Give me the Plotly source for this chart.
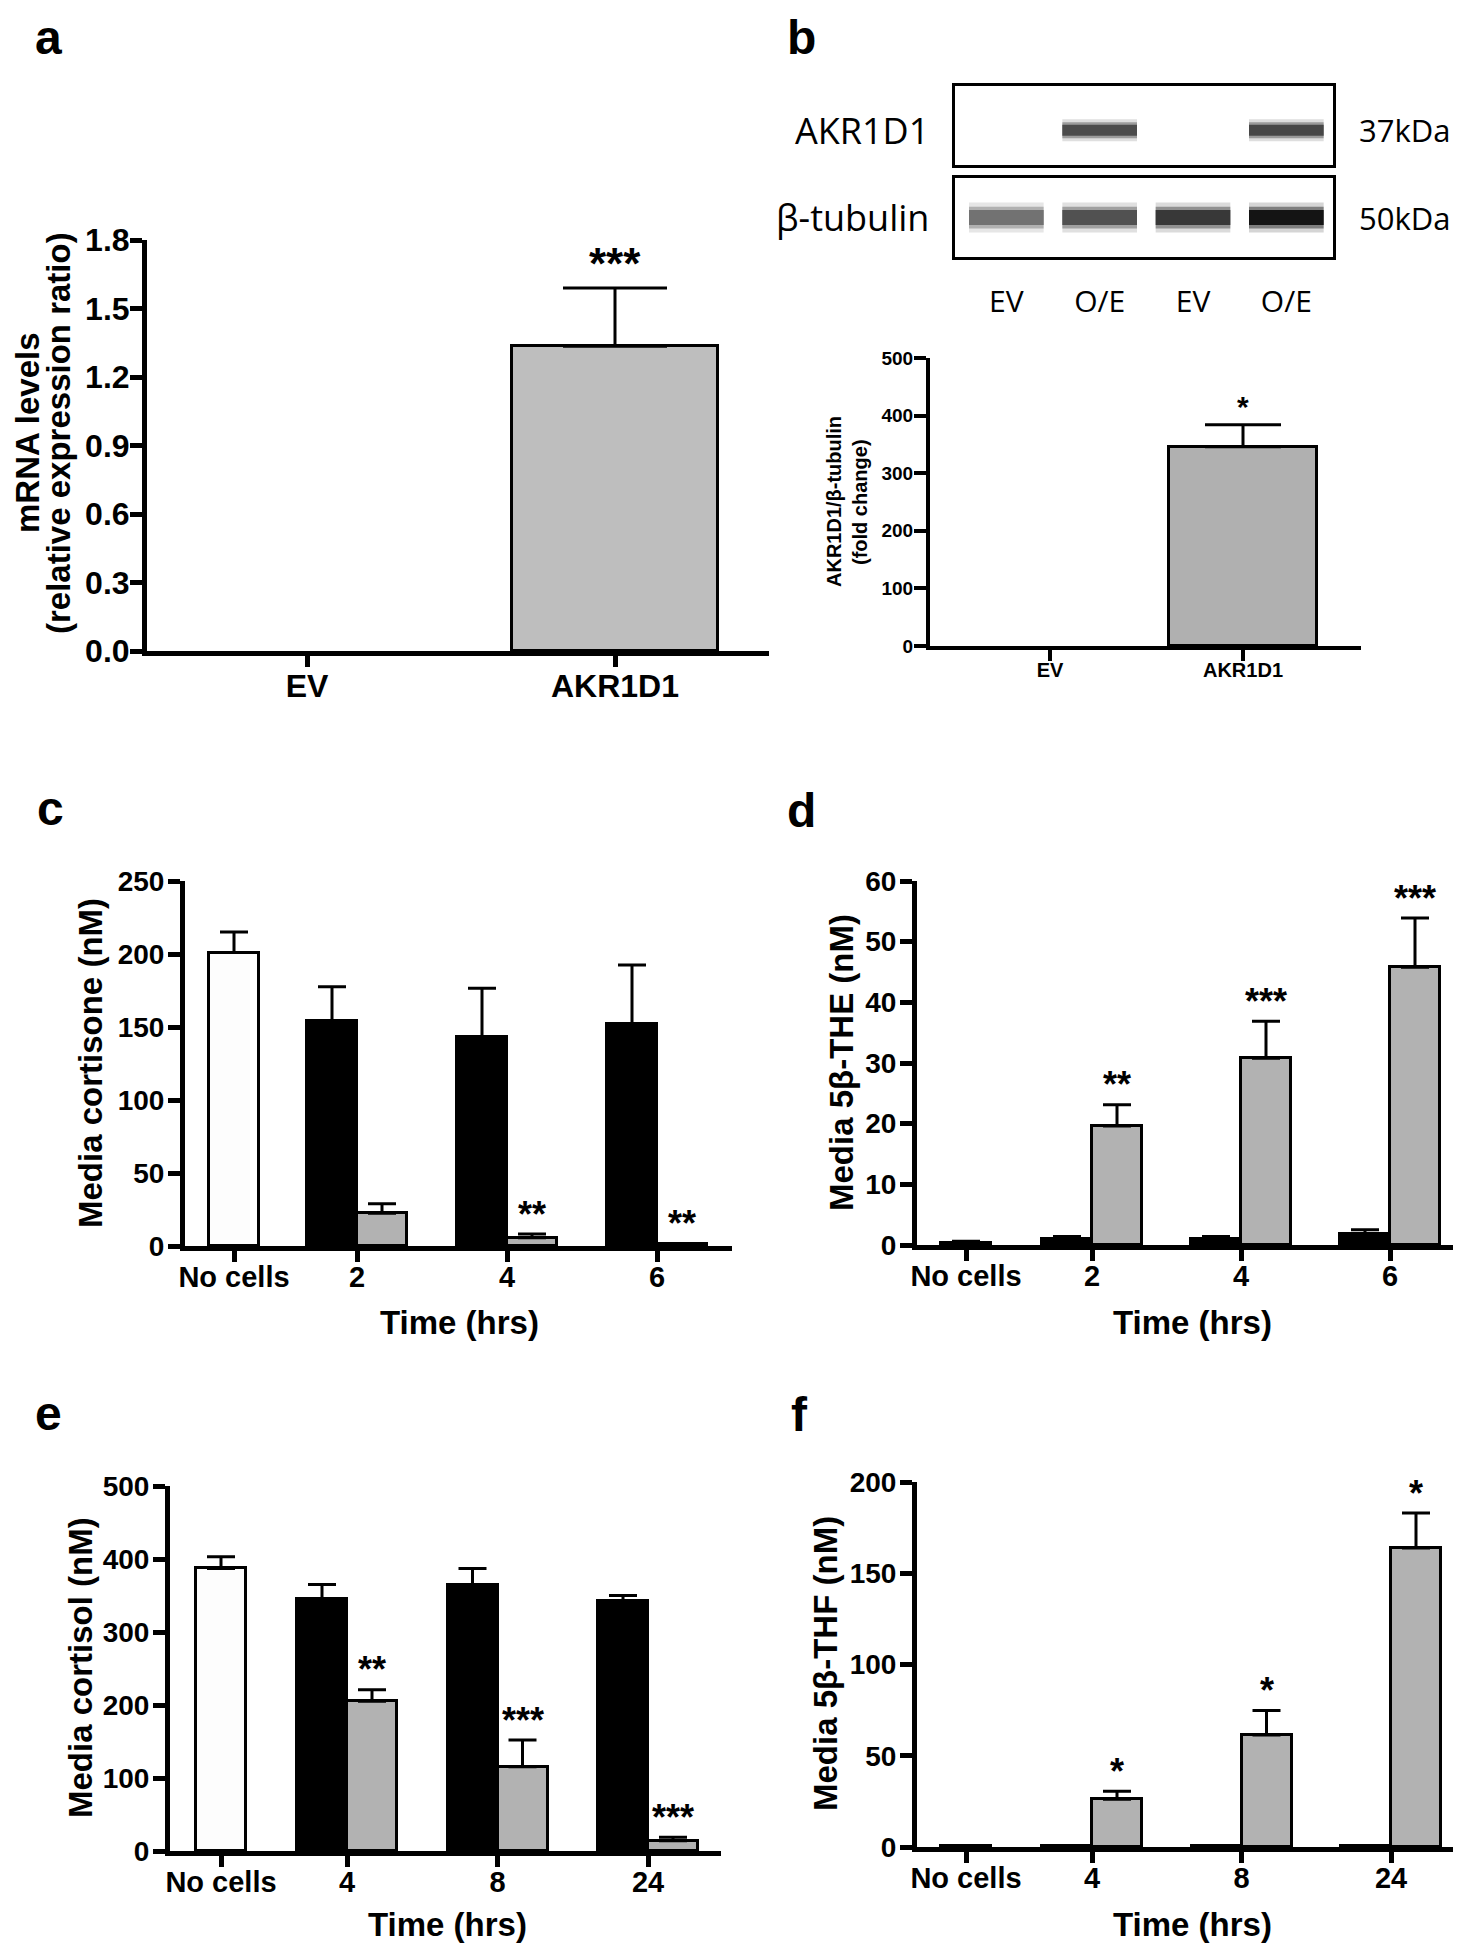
import plotly.graph_objects as go

W, H = 1461, 1950
FONT = "Liberation Sans, Arial, sans-serif"
BLOT_FONT = "Open Sans, Lato, sans-serif"

# ---------------- data ----------------
a_groups = ["EV", "AKR1D1"]
a_mean = [0.0, 1.335]
a_sem = [0.0, 0.255]
a_stars = ["", "***"]
a_yticks = [0.0, 0.3, 0.6, 0.9, 1.2, 1.5, 1.8]

b_groups = ["EV", "AKR1D1"]
b_mean = [0.0, 346]
b_sem = [0.0, 38]
b_stars = ["", "*"]
b_yticks = [0, 100, 200, 300, 400, 500]

blot_lanes = ["EV", "O/E", "EV", "O/E"]
blot_rows = ["AKR1D1", "β-tubulin"]
blot_kda = ["37kDa", "50kDa"]
akr1d1_band = [0.0, 0.70, 0.0, 0.72]
tubulin_band = [0.55, 0.68, 0.78, 0.92]

c_times = ["No cells", "2", "4", "6"]
c_nocells, c_nocells_sem = 201, 14
c_ev = [154, 143, 152]
c_ev_sem = [23.5, 33.5, 40.5]
c_akr = [22.5, 5.7, 1.1]
c_akr_sem = [6.5, 2.5, 0.5]
c_stars = ["", "**", "**"]
c_yticks = [0, 50, 100, 150, 200, 250]

d_times = ["No cells", "2", "4", "6"]
d_nocells, d_nocells_sem = 0.4, 0.2
d_ev = [1.0, 1.0, 1.8]
d_ev_sem = [0.4, 0.4, 0.7]
d_akr = [19.6, 30.8, 45.8]
d_akr_sem = [3.5, 6.1, 8.1]
d_stars = ["**", "***", "***"]
d_yticks = [0, 10, 20, 30, 40, 50, 60]

e_times = ["No cells", "4", "8", "24"]
e_nocells, e_nocells_sem = 387, 16
e_ev = [345, 364, 342]
e_ev_sem = [20, 23, 8]
e_akr = [205, 115.5, 14]
e_akr_sem = [16, 36.5, 5]
e_stars = ["**", "***", "***"]
e_yticks = [0, 100, 200, 300, 400, 500]

f_times = ["No cells", "4", "8", "24"]
f_nocells, f_nocells_sem = 0.5, 0.0
f_ev = [0.5, 0.5, 0.5]
f_ev_sem = [0.0, 0.0, 0.0]
f_akr = [26.2, 61.4, 163.8]
f_akr_sem = [4.3, 13.4, 19.2]
f_stars = ["*", "*", "*"]
f_yticks = [0, 50, 100, 150, 200]

# ---------------- helpers ----------------
fig = go.Figure()
layout = {}
annotations = []

WHITE = "#fdfdfd"
BLACK = "#000000"
GRAY = "#b2b2b2"


def xdom(x0, x1):
    return [x0 / W, x1 / W]


def ydom(top, bottom):
    return [1 - bottom / H, 1 - top / H]


def axname(n):
    return ("x", "y") if n == 1 else (f"x{n}", f"y{n}")


def lkey(n, letter):
    return f"{letter}axis" if n == 1 else f"{letter}axis{n}"


def bold(size):
    return dict(family=FONT, size=size, color="black", weight="bold")


def paper_text(text, x, y, size, angle=0, weight="bold", family=FONT):
    annotations.append(dict(text=text, x=x / W, y=1 - y / H, xref="paper", yref="paper",
                            showarrow=False, xanchor="center", yanchor="middle", textangle=angle,
                            font=dict(family=family, size=size, color="black", weight=weight)))


def xaxis_cfg(groups, px, cat0, lw, size, standoff=-8, **extra):
    unit = px["unit"]
    cfg = dict(type="category", categoryorder="array", categoryarray=groups,
               range=[(px["x0"] - cat0) / unit, (px["x1"] - cat0) / unit],
               ticks="outside", ticklen=11, tickwidth=lw, tickcolor="black",
               showgrid=False, zeroline=False, tickfont=bold(size), ticklabelstandoff=standoff,
               fixedrange=True)
    cfg.update(extra)
    return cfg


def yaxis_cfg(yticks, px, lw, size, anchor, standoff=0, tickfmt=None):
    cfg = dict(domain=ydom(px["ytop"], px["ybot"]), anchor=anchor,
               range=[yticks[0], yticks[-1]], tickvals=yticks,
               showline=True, linecolor="black", linewidth=lw, ticks="outside", ticklen=12,
               tickwidth=lw, tickcolor="black", showgrid=False, zeroline=False,
               tickfont=bold(size), ticklabelstandoff=standoff, fixedrange=True)
    if tickfmt:
        cfg["tickformat"] = tickfmt
    return cfg


def simple_panel(n, groups, mean, sem, stars, yticks, px, lw, color, cap, star_size,
                 ytick_size, xtick_size, ystandoff, tickfmt=None):
    xa, ya = axname(n)
    layout[lkey(n, "x")] = xaxis_cfg(groups, px, px["cat0"], lw, xtick_size,
                                     domain=xdom(px["x0"], px["x1"]), anchor=ya,
                                     showline=True, linecolor="black", linewidth=lw)
    layout[lkey(n, "y")] = yaxis_cfg(yticks, px, lw, ytick_size, xa, ystandoff, tickfmt)
    w = px["barw"] / px["unit"]
    keep = [i for i, v in enumerate(mean) if v > 0]
    fig.add_trace(go.Bar(
        x=[groups[i] for i in keep], y=[mean[i] for i in keep], width=w,
        marker=dict(color=color, line=dict(color="black", width=3)),
        error_y=dict(type="data", array=[sem[i] for i in keep], arrayminus=[0] * len(keep),
                     symmetric=False, color="black", thickness=3, width=cap),
        xaxis=xa, yaxis=ya, showlegend=False))
    for i in keep:
        if stars[i]:
            annotations.append(dict(text=stars[i], x=i, y=mean[i] + sem[i], xref=xa, yref=ya,
                                    showarrow=False, yanchor="middle", yshift=px["starshift"],
                                    font=bold(star_size)))


def time_panel(n, times, nocells, nocells_sem, ev, ev_sem, akr, akr_sem, stars, yticks, px):
    xa, ya = axname(n)
    xo = f"x{n + 10}"
    # time points on the main axis, the "No cells" control on an overlaid axis
    layout[lkey(n, "x")] = xaxis_cfg(times[1:], px, px["cat0"], 5, 29, standoff=-10,
                                     domain=xdom(px["x0"], px["x1"]), anchor=ya,
                                     showline=True, linecolor="black", linewidth=5)
    layout[lkey(n + 10, "x")] = xaxis_cfg(times[:1], px, px["nc0"], 5, 29, standoff=-10,
                                          overlaying=xa, anchor=ya, showline=True,
                                          linecolor="rgba(0,0,0,0)", linewidth=5)
    layout[lkey(n, "y")] = yaxis_cfg(yticks, px, 5, 28, xa, standoff=-2)
    w = px["barw"] / px["unit"]
    eb = dict(type="data", symmetric=False, color="black", thickness=3, width=14)
    fig.add_trace(go.Bar(x=times[:1], y=[nocells], width=w,
                         marker=dict(color=WHITE, line=dict(color="black", width=3)),
                         error_y=dict(eb, array=[nocells_sem], arrayminus=[0]),
                         xaxis=xo, yaxis=ya, showlegend=False))
    fig.add_trace(go.Bar(x=times[1:], y=ev, width=w, offset=-w,
                         marker=dict(color=BLACK, line=dict(color="black", width=3)),
                         error_y=dict(eb, array=ev_sem, arrayminus=[0] * len(ev)),
                         xaxis=xa, yaxis=ya, showlegend=False))
    fig.add_trace(go.Bar(x=times[1:], y=akr, width=w, offset=0,
                         marker=dict(color=GRAY, line=dict(color="black", width=3)),
                         error_y=dict(eb, array=akr_sem, arrayminus=[0] * len(akr)),
                         xaxis=xa, yaxis=ya, showlegend=False))
    for i, s in enumerate(stars):
        if s:
            annotations.append(dict(text=s, x=i + w / 2, y=akr[i] + akr_sem[i], xref=xa, yref=ya,
                                    showarrow=False, yanchor="middle", yshift=20, font=bold(36)))


# ---------------- panel a ----------------
simple_panel(1, a_groups, a_mean, a_sem, a_stars, a_yticks,
             dict(x0=139, x1=761, ytop=232, ybot=643, cat0=299, unit=308, barw=206, starshift=24),
             5, "#bebebe", 52, 44, ytick_size=32, xtick_size=32, ystandoff=-6, tickfmt=".1f")
paper_text("mRNA levels", 19, 425, 33, angle=-90)
paper_text("(relative expression ratio)", 50, 425, 33, angle=-90)

# ---------------- panel b chart ----------------
simple_panel(2, b_groups, b_mean, b_sem, b_stars, b_yticks,
             dict(x0=922, x1=1353, ytop=350, ybot=638, cat0=1042, unit=193, barw=148, starshift=18),
             4, "#b0b0b0", 38, 30, ytick_size=19, xtick_size=20, ystandoff=-3)
paper_text("AKR1D1/β-tubulin", 826, 494, 20, angle=-90)
paper_text("(fold change)", 852, 494, 20, angle=-90)

# ---------------- western blot ----------------
blot_x = xdom(947, 1325)
for n, (top, bot) in zip((7, 8), ((78, 157), (170, 249))):
    xa, ya = axname(n)
    layout[lkey(n, "x")] = dict(domain=blot_x, anchor=ya, range=[0.45, 4.5], showline=True,
                                linecolor="black", linewidth=2.5, mirror=True, showgrid=False,
                                zeroline=False, fixedrange=True,
                                showticklabels=(n == 8), ticks="outside" if n == 8 else "",
                                ticklen=16, tickcolor="rgba(0,0,0,0)",
                                tickvals=list(range(1, len(blot_lanes) + 1)), ticktext=blot_lanes,
                                tickfont=dict(family=BLOT_FONT, size=30, color="black"))
    layout[lkey(n, "y")] = dict(domain=ydom(top, bot), anchor=xa, range=[0, 1], showline=True,
                                linecolor="black", linewidth=2.5, mirror=True, showgrid=False,
                                zeroline=False, showticklabels=False, fixedrange=True)

for n, bands, level, thick, row, kda in ((7, akr1d1_band, 0.44, 11, blot_rows[0], blot_kda[0]),
                                          (8, tubulin_band, 0.5, 15, blot_rows[1], blot_kda[1])):
    xa, ya = axname(n)
    for lane, v in enumerate(bands, start=1):
        if v <= 0:
            continue
        g = int(255 * (1 - v))
        for width, alpha in ((thick * 2.0, 0.18), (thick * 1.45, 0.45), (thick, 1.0)):
            fig.add_trace(go.Scatter(x=[lane - 0.4, lane + 0.4], y=[level, level], mode="lines",
                                     line=dict(color=f"rgba({g},{g},{g},{alpha})", width=width),
                                     xaxis=xa, yaxis=ya, showlegend=False, hoverinfo="skip"))
    annotations.append(dict(text=row, x=0, y=level, xref=f"{xa} domain", yref=ya, xanchor="right",
                            yanchor="middle", xshift=-24, showarrow=False,
                            font=dict(family=BLOT_FONT, size=36, color="black")))
    annotations.append(dict(text=kda, x=1, y=level, xref=f"{xa} domain", yref=ya, xanchor="left",
                            yanchor="middle", xshift=24, showarrow=False,
                            font=dict(family=BLOT_FONT, size=31, color="black")))

# ---------------- panels c-f ----------------
time_panel(3, c_times, c_nocells, c_nocells_sem, c_ev, c_ev_sem, c_akr, c_akr_sem, c_stars, c_yticks,
           dict(x0=177, x1=724, ytop=873, ybot=1238, cat0=349, nc0=226, unit=150, barw=50))
paper_text("Media cortisone (nM)", 82, 1055, 33, angle=-90)
paper_text("Time (hrs)", 451, 1314, 33)

time_panel(4, d_times, d_nocells, d_nocells_sem, d_ev, d_ev_sem, d_akr, d_akr_sem, d_stars, d_yticks,
           dict(x0=909, x1=1458, ytop=873, ybot=1237, cat0=1084, nc0=958, unit=149, barw=50))
paper_text("Media 5β-THE (nM)", 833, 1055, 33, angle=-90)
paper_text("Time (hrs)", 1184, 1314, 33)

time_panel(5, e_times, e_nocells, e_nocells_sem, e_ev, e_ev_sem, e_akr, e_akr_sem, e_stars, e_yticks,
           dict(x0=162, x1=713, ytop=1478, ybot=1843, cat0=339, nc0=213, unit=150.5, barw=50))
paper_text("Media cortisol (nM)", 72, 1660, 33, angle=-90)
paper_text("Time (hrs)", 439, 1916, 33)

time_panel(6, f_times, f_nocells, f_nocells_sem, f_ev, f_ev_sem, f_akr, f_akr_sem, f_stars, f_yticks,
           dict(x0=909, x1=1458, ytop=1474, ybot=1839, cat0=1084, nc0=958, unit=149.5, barw=50))
paper_text("Media 5β-THF (nM)", 817, 1656, 33, angle=-90)
paper_text("Time (hrs)", 1184, 1916, 33)

# ---------------- panel letters ----------------
for letter, x, y in (("a", 40, 29), ("b", 793, 29), ("c", 42, 800),
                     ("d", 793, 802), ("e", 40, 1405), ("f", 791, 1406)):
    paper_text(letter, x, y, 48)

fig.update_layout(
    template="none", width=W, height=H, autosize=False,
    margin=dict(l=0, r=0, t=0, b=0, pad=0),
    paper_bgcolor="white", plot_bgcolor="rgba(0,0,0,0)",
    font=dict(family=FONT, color="black"),
    barmode="overlay", bargap=0, showlegend=False,
    annotations=annotations, **layout)

fig.write_html("out.html")
